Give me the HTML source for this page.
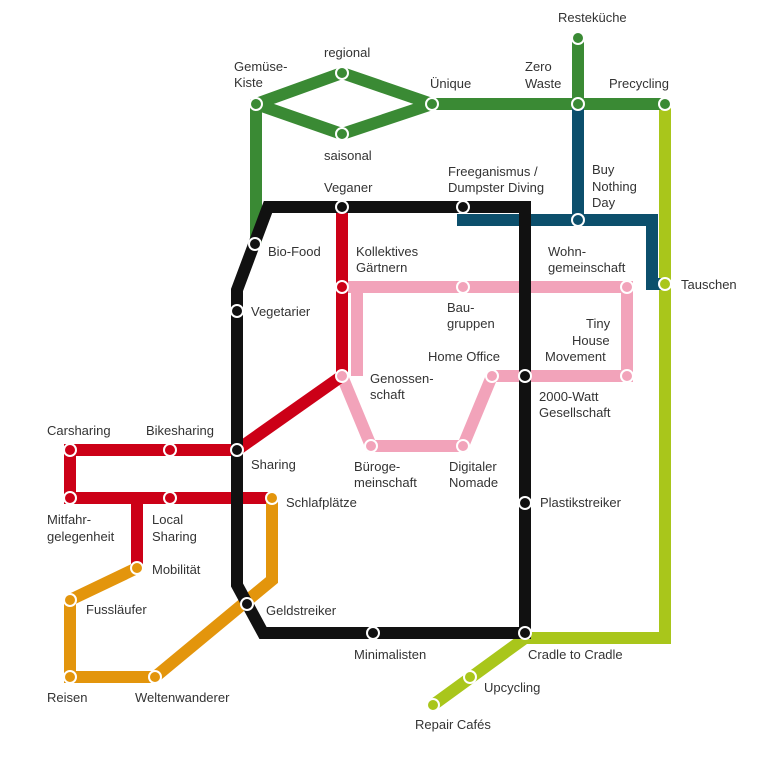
<!DOCTYPE html>
<html><head><meta charset="utf-8"><style>
body{margin:0;background:#fff;}
svg text{font-family:"Liberation Sans",sans-serif;font-size:13px;fill:#333;}
</style></head><body>
<svg width="768" height="755" viewBox="0 0 768 755" xmlns="http://www.w3.org/2000/svg">
<g fill="none" stroke-width="12" stroke-linejoin="miter" stroke-linecap="butt">
<!-- lime -->
<path d="M665 104 V638 H525 L433 705" stroke="#a9c61b"/>
<!-- green -->
<path d="M256 244 V104 L342 73 L432 104 L342 134 L256 104 M432 104 H665 M578 38 V104" stroke="#3a8a34"/>
<!-- blue -->
<path d="M578 104 V220 M457 220 H652 V284 H665" stroke="#0c4f6c"/>
<!-- pink -->
<path d="M342 287 H627 V376 H492 L463 446 H371 L342 376 M357 287 V376" stroke="#f2a3ba"/>
<!-- red -->
<path d="M342 207 V376 L237 450 H70 V498 H272 M137 498 V568" stroke="#cc0017"/>
<!-- orange -->
<path d="M137 568 L70 600 V677 H155 L272 580 V498" stroke="#e3950c"/>
<!-- black -->
<path d="M268 207 H525 V633 H263 L237 585 V290 Z" stroke="#111"/>
</g>
<g stroke="#fff" stroke-width="2">
<circle cx="578" cy="38" r="6" fill="#3a8a34"/>
<circle cx="342" cy="73" r="6" fill="#3a8a34"/>
<circle cx="342" cy="134" r="6" fill="#3a8a34"/>
<circle cx="256" cy="104" r="6" fill="#3a8a34"/>
<circle cx="432" cy="104" r="6" fill="#3a8a34"/>
<circle cx="578" cy="104" r="6" fill="#3a8a34"/>
<circle cx="665" cy="104" r="6" fill="#3a8a34"/>
<circle cx="578" cy="220" r="6" fill="#0c4f6c"/>
<circle cx="665" cy="284" r="6" fill="#a9c61b"/>
<circle cx="470" cy="677" r="6" fill="#a9c61b"/>
<circle cx="433" cy="705" r="6" fill="#a9c61b"/>
<circle cx="342" cy="207" r="6" fill="#111"/>
<circle cx="463" cy="207" r="6" fill="#111"/>
<circle cx="255" cy="244" r="6" fill="#111"/>
<circle cx="237" cy="311" r="6" fill="#111"/>
<circle cx="237" cy="450" r="6" fill="#111"/>
<circle cx="247" cy="604" r="6" fill="#111"/>
<circle cx="373" cy="633" r="6" fill="#111"/>
<circle cx="525" cy="633" r="6" fill="#111"/>
<circle cx="525" cy="503" r="6" fill="#111"/>
<circle cx="525" cy="376" r="6" fill="#111"/>
<circle cx="342" cy="287" r="6" fill="#cc0017"/>
<circle cx="342" cy="376" r="6" fill="#f2a3ba"/>
<circle cx="463" cy="287" r="6" fill="#f2a3ba"/>
<circle cx="627" cy="287" r="6" fill="#f2a3ba"/>
<circle cx="627" cy="376" r="6" fill="#f2a3ba"/>
<circle cx="492" cy="376" r="6" fill="#f2a3ba"/>
<circle cx="463" cy="446" r="6" fill="#f2a3ba"/>
<circle cx="371" cy="446" r="6" fill="#f2a3ba"/>
<circle cx="70" cy="450" r="6" fill="#cc0017"/>
<circle cx="170" cy="450" r="6" fill="#cc0017"/>
<circle cx="70" cy="498" r="6" fill="#cc0017"/>
<circle cx="170" cy="498" r="6" fill="#cc0017"/>
<circle cx="272" cy="498" r="6" fill="#e3950c"/>
<circle cx="137" cy="568" r="6" fill="#e3950c"/>
<circle cx="70" cy="600" r="6" fill="#e3950c"/>
<circle cx="70" cy="677" r="6" fill="#e3950c"/>
<circle cx="155" cy="677" r="6" fill="#e3950c"/>
</g>
<g>
<text x="558" y="22">Resteküche</text>
<text x="324" y="57">regional</text>
<text x="234" y="71">Gemüse-</text><text x="234" y="87">Kiste</text>
<text x="430" y="88">Ünique</text>
<text x="525" y="71">Zero</text><text x="525" y="88">Waste</text>
<text x="609" y="88">Precycling</text>
<text x="324" y="160">saisonal</text>
<text x="324" y="192">Veganer</text>
<text x="448" y="176">Freeganismus /</text><text x="448" y="192">Dumpster Diving</text>
<text x="592" y="174">Buy</text><text x="592" y="191">Nothing</text><text x="592" y="207">Day</text>
<text x="268" y="256">Bio-Food</text>
<text x="356" y="256">Kollektives</text><text x="356" y="272">Gärtnern</text>
<text x="548" y="256">Wohn-</text><text x="548" y="272">gemeinschaft</text>
<text x="681" y="289">Tauschen</text>
<text x="251" y="316">Vegetarier</text>
<text x="447" y="312">Bau-</text><text x="447" y="328">gruppen</text>
<text x="586" y="328">Tiny</text><text x="572" y="345">House</text><text x="545" y="361">Movement</text>
<text x="428" y="361">Home Office</text>
<text x="370" y="383">Genossen-</text><text x="370" y="399">schaft</text>
<text x="539" y="401">2000-Watt</text><text x="539" y="417">Gesellschaft</text>
<text x="47" y="435">Carsharing</text>
<text x="146" y="435">Bikesharing</text>
<text x="251" y="469">Sharing</text>
<text x="354" y="471">Büroge-</text><text x="354" y="487">meinschaft</text>
<text x="449" y="471">Digitaler</text><text x="449" y="487">Nomade</text>
<text x="286" y="507">Schlafplätze</text>
<text x="540" y="507">Plastikstreiker</text>
<text x="47" y="524">Mitfahr-</text><text x="47" y="541">gelegenheit</text>
<text x="152" y="524">Local</text><text x="152" y="541">Sharing</text>
<text x="152" y="574">Mobilität</text>
<text x="86" y="614">Fussläufer</text>
<text x="266" y="615">Geldstreiker</text>
<text x="354" y="659">Minimalisten</text>
<text x="528" y="659">Cradle to Cradle</text>
<text x="484" y="692">Upcycling</text>
<text x="47" y="702">Reisen</text>
<text x="135" y="702">Weltenwanderer</text>
<text x="415" y="729">Repair Cafés</text>
</g>
</svg>
</body></html>
